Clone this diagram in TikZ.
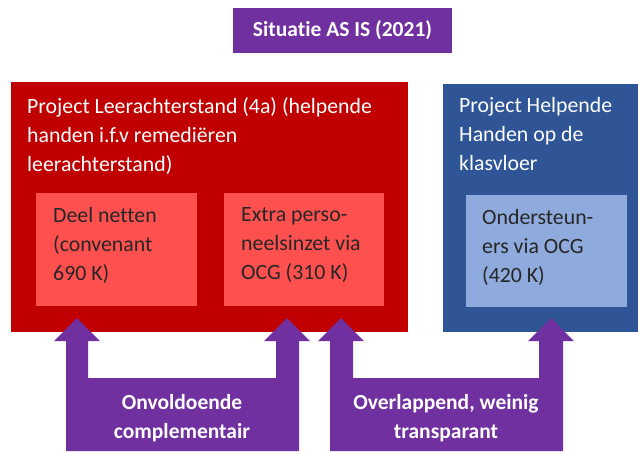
\documentclass[tikz,border=0pt]{standalone}
\usepackage{fontspec}
\setmainfont{Carlito}[Ligatures=NoCommon]
\definecolor{cpurple}{HTML}{7030A0}
\definecolor{cred}{HTML}{C00000}
\definecolor{clred}{HTML}{FF5050}
\definecolor{cblue}{HTML}{2F5597}
\definecolor{clblue}{HTML}{8FAADC}
\definecolor{ctext}{HTML}{262626}
\begin{document}
\begin{tikzpicture}[x=1pt,y=-1pt,
  txt/.style={anchor=north west,inner sep=0pt,align=left,font=\fontsize{21.8}{29}\selectfont},
  whitetxt/.style={txt,text=white},
  darktxt/.style={txt,text=ctext},
  boldtxt/.style={inner sep=0pt,align=center,text=white,font=\bfseries\fontsize{21.5}{29}\selectfont}]
\useasboundingbox (0,0) rectangle (639,451);
% title
\node[fill=cpurple,minimum width=219pt,minimum height=45pt,inner sep=0pt,
      text=white,font=\bfseries\fontsize{21.5}{26}\selectfont] (title) at (342.5,30.5) {Situatie AS IS (2021)};
% outer boxes
\fill[cred] (11,82) rectangle (408,332);
\fill[cblue] (443,84) rectangle (638,332);
% inner boxes
\fill[clred] (36,193) rectangle (197,306);
\fill[clred] (224,193) rectangle (384,306);
\fill[clblue] (466,195) rectangle (627,307);
% texts
\node[whitetxt] (redtxt) at (27,97) {Project Leerachterstand (4a) (helpende\\handen i.f.v remediëren\\leerachterstand)};
\node[whitetxt] (bluetxt) at (459,97) {Project Helpende\\Handen op de\\klasvloer};
\node[darktxt] (deel) at (53,207) {Deel netten\\(convenant\\690 K)};
\node[darktxt] (extra) at (241,207) {Extra perso-\\neelsinzet via\\OCG (310 K)};
\node[darktxt] (onder) at (482,209) {Ondersteun-\\ers via OCG\\(420 K)};
% purple arrow shapes
\fill[cpurple] (66,451) -- (66,341) -- (54,341) -- (77,318) -- (100,341) -- (88,341)
  -- (88,378) -- (276,378) -- (276,341) -- (264,341) -- (287,318) -- (310,341)
  -- (299,341) -- (299,451) -- cycle;
\fill[cpurple] (330,451) -- (330,341) -- (318,341) -- (341,318) -- (364,341) -- (353,341)
  -- (353,378) -- (539,378) -- (539,341) -- (528,341) -- (551,318) -- (574,341)
  -- (563,341) -- (563,451) -- cycle;
\node[boldtxt] (lab1) at (182,418) {Onvoldoende\\complementair};
\node[boldtxt] (lab2) at (446,418) {Overlappend, weinig\\transparant};
\end{tikzpicture}
\end{document}
